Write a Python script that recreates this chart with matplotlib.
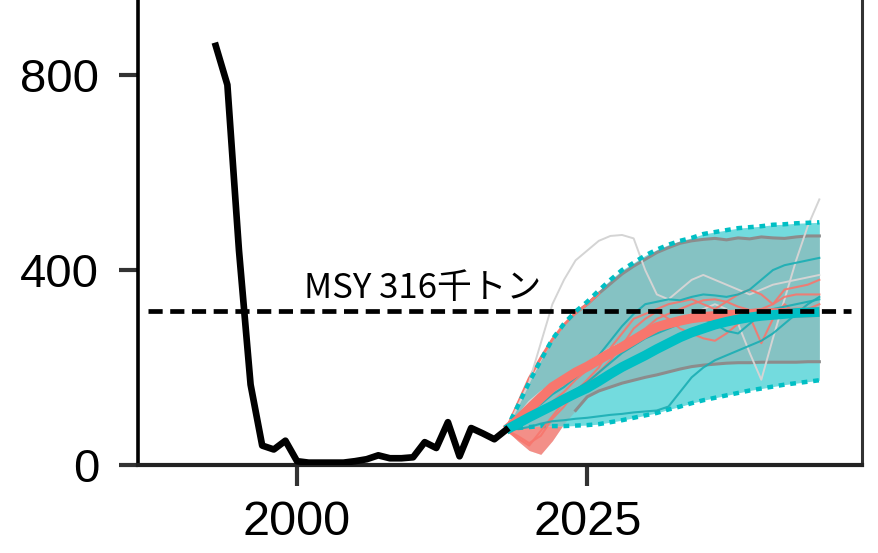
import matplotlib
matplotlib.use('Agg')
import matplotlib.pyplot as plt
import numpy as np

# 過去の資源量 (千トン)
hist_years = list(range(1993, 2019))
hist_biomass = [860, 780, 440, 165, 40, 32, 50, 8, 5, 5, 5, 5, 8, 12, 20, 14,
                14, 16, 47, 35, 88, 18, 76, 65, 53, 72]

# 将来予測
proj_years = list(range(2018, 2046))
teal_upper = [72, 120, 170, 215, 258, 290, 315, 335, 358, 380, 400, 415, 430, 442,
              452, 460, 466, 474, 478, 482, 486, 488, 490, 493, 494, 496, 497, 498]
teal_lower = [72, 76, 78, 80, 80, 80, 81, 82, 84, 88, 92, 97, 102, 107,
              114, 120, 127, 133, 138, 143, 148, 153, 157, 161, 165, 168, 171, 174]
salmon_upper = [72, 125, 178, 220, 258, 288, 312, 330, 352, 372, 392, 408, 422, 436,
                446, 455, 460, 463, 465, 462, 466, 464, 468, 466, 465, 468, 470, 470]
salmon_lower = [72, 50, 30, 22, 50, 85, 112, 140, 152, 160, 168, 174, 180, 185,
                191, 197, 202, 205, 207, 209, 210, 210, 211, 211, 211, 211, 212, 212]
teal_median = [72, 85, 98, 110, 122, 135, 147, 158, 172, 187, 201, 213, 225, 238,
               250, 262, 272, 280, 288, 294, 299, 303, 306, 308, 310, 312, 313, 314]
salmon_median = [72, 92, 115, 138, 160, 175, 190, 202, 216, 230, 242, 256, 270, 283,
                 290, 296, 301, 304, 306, 308, 309, 310, 311, 312, 312, 313, 313, 314]

salmon_runs = [
    [72, 60, 45, 60, 95, 120, 150, 175, 200, 240, 270, 300, 310, 320,
     330, 335, 340, 330, 320, 335, 350, 360, 350, 330, 360, 365, 370, 380],
    [72, 55, 40, 70, 100, 130, 150, 165, 190, 215, 245, 280, 300, 315,
     300, 280, 270, 260, 255, 270, 290, 305, 250, 300, 330, 310, 320, 330],
    [72, 80, 95, 110, 130, 150, 175, 195, 215, 235, 250, 265, 280, 300,
     310, 320, 330, 338, 340, 335, 325, 318, 320, 330, 345, 350, 350, 350],
]
teal_runs = [
    [72, 74, 78, 85, 90, 92, 95, 97, 100, 103, 105, 108, 110, 112,
     120, 150, 180, 200, 215, 225, 235, 245, 255, 270, 290, 310, 330, 345],
    [72, 90, 110, 125, 145, 160, 180, 200, 225, 255, 285, 310, 330, 335,
     340, 338, 345, 350, 348, 345, 350, 360, 380, 400, 410, 415, 420, 425],
    [72, 85, 100, 110, 125, 140, 155, 170, 190, 210, 230, 245, 260, 270,
     280, 290, 295, 300, 290, 275, 270, 290, 310, 320, 325, 330, 335, 340],
]
grey_runs = [
    [72, 120, 170, 250, 330, 380, 420, 440, 460, 470, 472, 465, 400, 350,
     340, 360, 380, 390, 380, 370, 360, 350, 360, 370, 375, 380, 385, 390],
    [72, 100, 130, 150, 165, 180, 195, 210, 225, 240, 250, 262, 275, 285,
     295, 300, 310, 320, 330, 320, 290, 230, 175, 260, 340, 420, 490, 545],
]

msy = 316

TEAL = '#00BFC4'
SALMON = '#F8766D'

plt.rcParams['font.family'] = ['Liberation Sans', 'DejaVu Sans']

fig = plt.figure(figsize=(8.79, 5.53), dpi=100)
ax = fig.add_axes([0.157, 0.159, 0.824, 0.841])

# 信頼区間
ax.fill_between(proj_years, teal_lower, teal_upper, color=TEAL, alpha=0.55, lw=0, zorder=1)
ax.fill_between(proj_years, salmon_lower, salmon_upper, color='#b08a86', alpha=0.3, lw=0, zorder=2)
sl = np.array(salmon_lower)
tl = np.array(teal_lower)
ax.fill_between(proj_years, sl, tl, where=sl < tl, interpolate=True,
                color=SALMON, alpha=0.75, lw=0, zorder=2)
ax.plot(proj_years[6:], salmon_upper[6:], color='#8c8c8c', lw=2.2, zorder=3)
ax.plot(proj_years[6:], salmon_lower[6:], color='#8c8c8c', lw=2.2, zorder=3)
ax.plot(proj_years[:9], salmon_upper[:9], color=SALMON, lw=2, zorder=3)
ax.plot(proj_years, teal_upper, color=TEAL, lw=3.2, dashes=(1.3, 1.3), zorder=4)
ax.plot(proj_years, teal_lower, color=TEAL, lw=3.2, dashes=(1.3, 1.3), zorder=4)

# 個別シミュレーション
for run in grey_runs:
    ax.plot(proj_years, run, color='#d4d4d4', lw=1.4, zorder=3)
for run in salmon_runs:
    ax.plot(proj_years, run, color=SALMON, lw=1.5, alpha=0.9, zorder=4)
for run in teal_runs:
    ax.plot(proj_years, run, color='#1aaeb4', lw=1.5, alpha=0.9, zorder=4)

# 中央値
ax.plot(proj_years, salmon_median, color=SALMON, lw=7, solid_capstyle='butt', zorder=5)
ax.plot(proj_years, teal_median, color=TEAL, lw=7, solid_capstyle='butt', zorder=6)

# 過去の資源量
ax.plot(hist_years, hist_biomass, color='black', lw=4.8, zorder=7)

# MSY
ax.plot([1987.2, 2047.7], [msy, msy], color='black', lw=3.4, dashes=(3, 1.6), zorder=8)
ax.text(2000.6, 342, 'MSY 316千トン', fontsize=25,
        family=['Noto Sans CJK JP', 'DejaVu Sans'], ha='left', va='baseline', zorder=9)

ax.set_xlim(1986.3, 2048.7)
ax.set_ylim(0, 954)
ax.set_xticks([2000, 2025])
ax.set_yticks([0, 400, 800])

ax.spines['top'].set_visible(False)
ax.spines['left'].set_linewidth(2.6)
ax.spines['bottom'].set_linewidth(3)
ax.spines['bottom'].set_color('#222222')
ax.spines['right'].set_linewidth(2.2)
ax.spines['right'].set_color('#333333')

ax.tick_params(axis='y', length=14, width=3, color='#333333', pad=14, labelsize=34)
ax.tick_params(axis='x', length=15, width=3, color='#333333', pad=10, labelsize=35)

fig.savefig('out.png', dpi=100)
